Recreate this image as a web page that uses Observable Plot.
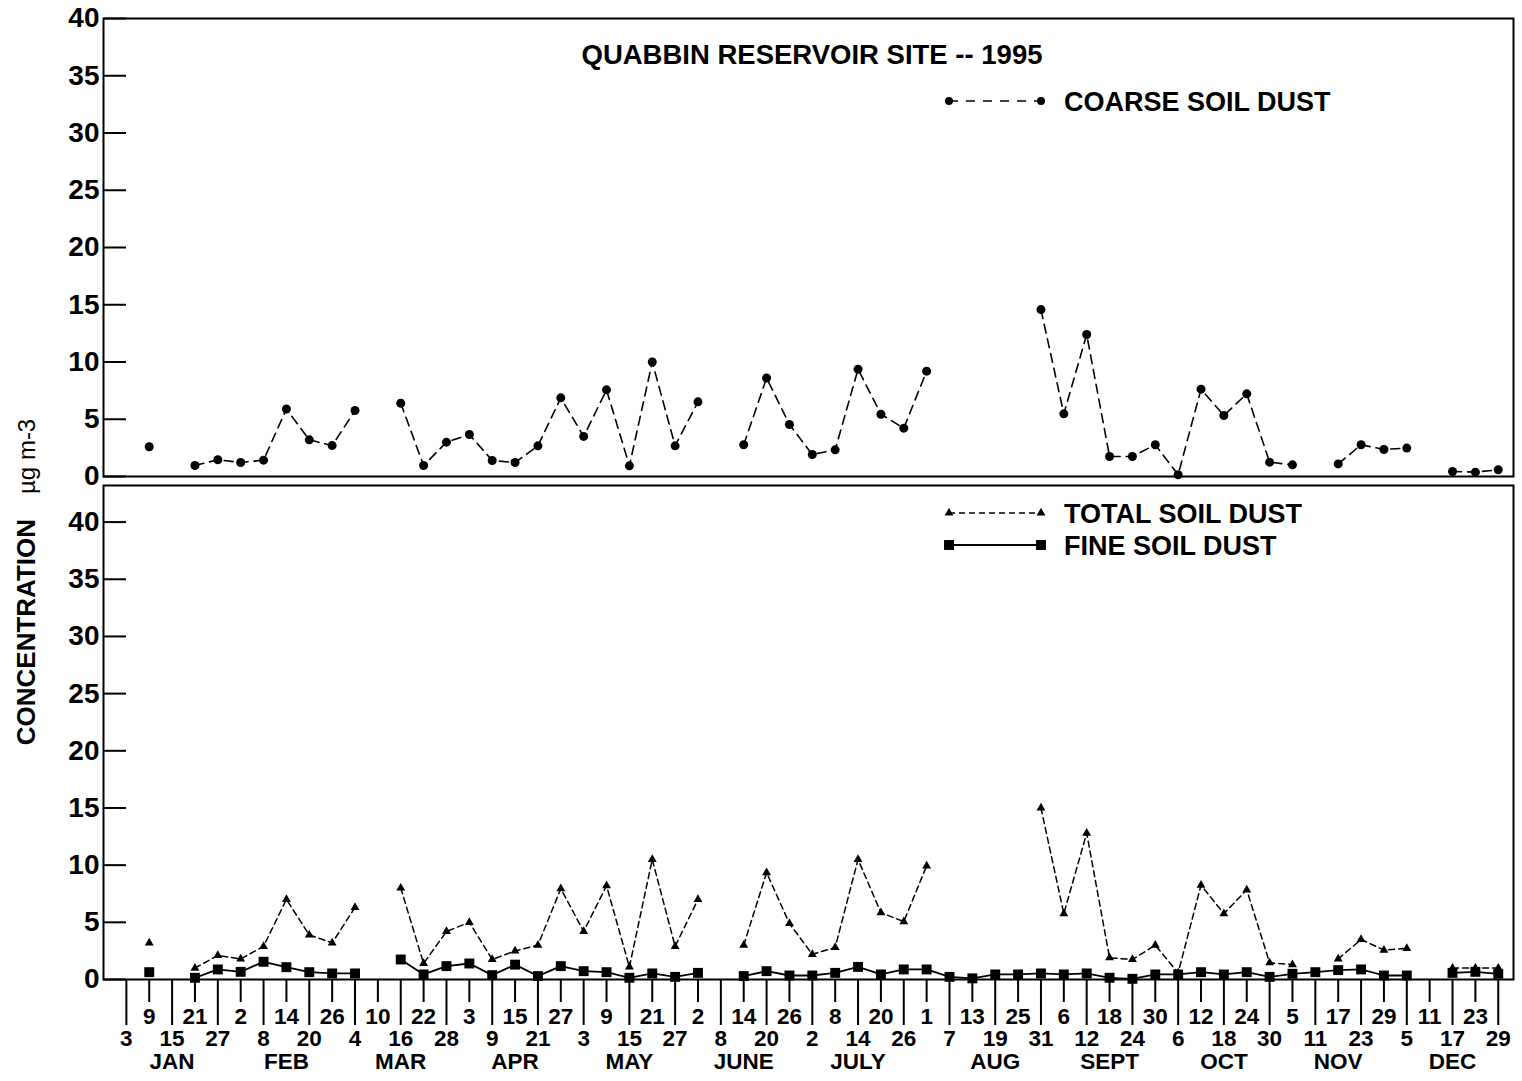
<!DOCTYPE html>
<html><head><meta charset="utf-8">
<script src="https://cdn.jsdelivr.net/npm/d3@7"></script>
<script src="https://cdn.jsdelivr.net/npm/@observablehq/plot@0.6"></script>
<style>
body{margin:0;background:#fff;}
#wrap{position:relative;width:1522px;height:1081px;background:#fff;font-family:"Liberation Sans",Arial,sans-serif;}
#bot{position:absolute;left:0;top:480px;}
#top{position:absolute;left:0;top:0;}
#overlay{position:absolute;left:0;top:0;pointer-events:none;}
</style></head><body>
<div id="wrap"><div id="bot"></div><div id="top"></div><svg id="overlay" width="1522" height="1081"></svg></div>
<script>
// Sampling dates (every sixth day, 1995)
const dates = ["1995-01-03","1995-01-09","1995-01-15","1995-01-21","1995-01-27","1995-02-02","1995-02-08","1995-02-14","1995-02-20","1995-02-26",
"1995-03-04","1995-03-10","1995-03-16","1995-03-22","1995-03-28","1995-04-03","1995-04-09","1995-04-15","1995-04-21","1995-04-27",
"1995-05-03","1995-05-09","1995-05-15","1995-05-21","1995-05-27","1995-06-02","1995-06-08","1995-06-14","1995-06-20","1995-06-26",
"1995-07-02","1995-07-08","1995-07-14","1995-07-20","1995-07-26","1995-08-01","1995-08-07","1995-08-13","1995-08-19","1995-08-25",
"1995-08-31","1995-09-06","1995-09-12","1995-09-18","1995-09-24","1995-09-30","1995-10-06","1995-10-12","1995-10-18","1995-10-24",
"1995-10-30","1995-11-05","1995-11-11","1995-11-17","1995-11-23","1995-11-29","1995-12-05","1995-12-11","1995-12-17","1995-12-23","1995-12-29"];
// Coarse soil dust (ug m-3)
const coarse = [null,2.6,null,0.96,1.46,1.22,1.43,5.9,3.2,2.7,
5.76,null,6.4,0.96,3.0,3.67,1.4,1.22,2.68,6.87,
3.5,7.57,0.93,10.0,2.68,6.52,null,2.77,8.6,4.54,
1.92,2.33,9.37,5.44,4.22,9.2,null,null,null,null,
14.58,5.47,12.4,1.75,1.75,2.77,0.15,7.63,5.33,7.22,
1.25,1.02,null,1.1,2.77,2.36,2.48,null,0.44,0.38,0.59];
// Total soil dust
const total = [null,3.2,null,1.0,2.1,1.8,2.9,7.0,3.9,3.2,
6.3,null,8.0,1.4,4.2,5.0,1.75,2.5,3.0,7.95,
4.2,8.2,1.1,10.5,2.9,7.0,null,3.0,9.35,4.9,
2.2,2.8,10.5,5.85,5.06,9.94,null,null,null,null,
15.0,5.76,12.8,1.9,1.75,3.0,0.58,8.25,5.76,7.84,
1.46,1.3,null,1.8,3.5,2.57,2.72,null,1.0,1.0,1.0];
// Fine soil dust
const fine = [null,0.64,null,0.15,0.88,0.67,1.55,1.08,0.64,0.53,
0.53,null,1.75,0.44,1.17,1.4,0.38,1.3,0.3,1.17,
0.73,0.64,0.15,0.53,0.23,0.58,null,0.3,0.73,0.35,
0.35,0.58,1.1,0.44,0.88,0.88,0.23,0.1,0.44,0.44,
0.53,0.44,0.53,0.15,0.06,0.44,0.44,0.64,0.44,0.64,
0.23,0.5,0.64,0.82,0.88,0.35,0.35,null,0.58,0.67,0.5];
const yTicks = [0,5,10,15,20,25,30,35,40];
const monthNames = ["JAN","FEB","MAR","APR","MAY","JUNE","JULY","AUG","SEPT","OCT","NOV","DEC"];
const monthLabelDates = ["1995-01-15","1995-02-14","1995-03-16","1995-04-15","1995-05-15","1995-06-14","1995-07-14","1995-08-19","1995-09-18","1995-10-18","1995-11-17","1995-12-17"];

const rows = dates.map((d, i) => ({date: new Date(d), coarse: coarse[i], total: total[i], fine: fine[i]}));
const lowerRow = dates.filter((d, i) => i % 2 === 0).map(d => new Date(d));
const upperRow = dates.filter((d, i) => i % 2 === 1).map(d => new Date(d));
const monthTicks = monthLabelDates.map(d => new Date(d));
const monthMap = new Map(monthTicks.map((d, i) => [+d, monthNames[i]]));

const FONT = "'Liberation Sans', Arial, Helvetica, sans-serif";
const W = 1522, ML = 103, MR = 9;
const xDomain = [new Date("1994-12-28"), new Date("1996-01-02")];
const style = {fontFamily: FONT, background: "none", overflow: "visible", color: "black"};
const yTickInset = (W - ML - MR) - 23;

const topChart = Plot.plot({
  width: W, height: 480, marginTop: 18, marginBottom: 4, marginLeft: ML, marginRight: MR,
  style,
  x: {type: "utc", domain: xDomain, axis: null, label: null},
  y: {domain: [0, 40], label: null},
  marks: [
    Plot.frame({stroke: "black", strokeWidth: 2}),
    Plot.tickY(yTicks, {y: d => d, insetRight: yTickInset, stroke: "black", strokeWidth: 2}),
    Plot.axisY(yTicks, {tickSize: 0, tickPadding: 4, fontSize: 28, fontWeight: "bold", label: null}),
    Plot.line(rows, {x: "date", y: "coarse", stroke: "black", strokeWidth: 1.6, strokeDasharray: "9,6"}),
    Plot.dot(rows, {x: "date", y: "coarse", r: 4.5, fill: "black", stroke: "none"})
  ]
});

const botChart = Plot.plot({
  width: W, height: 601, marginTop: 5, marginBottom: 102, marginLeft: ML, marginRight: MR,
  style,
  x: {type: "utc", domain: xDomain, label: null},
  y: {domain: [0, 43.2], label: null},
  marks: [
    Plot.frame({stroke: "black", strokeWidth: 2}),
    Plot.tickY(yTicks, {y: d => d, insetRight: yTickInset, stroke: "black", strokeWidth: 2}),
    Plot.axisY(yTicks, {tickSize: 0, tickPadding: 4, fontSize: 28, fontWeight: "bold", label: null}),
    Plot.axisX(lowerRow, {tickSize: 46, tickPadding: 5, strokeWidth: 2, fontSize: 22.5, fontWeight: "bold", tickFormat: d => d.getUTCDate(), label: null}),
    Plot.axisX(upperRow, {tickSize: 23, tickPadding: 6, strokeWidth: 2, fontSize: 22.5, fontWeight: "bold", tickFormat: d => d.getUTCDate(), label: null}),
    Plot.axisX(monthTicks, {tickSize: 0, tickPadding: 74, fontSize: 22.5, fontWeight: "bold", tickFormat: d => monthMap.get(+d), label: null}),
    Plot.line(rows, {x: "date", y: "total", stroke: "black", strokeWidth: 1.5, strokeDasharray: "6,4"}),
    Plot.dot(rows, {x: "date", y: "total", symbol: "triangle", r: 3.3, fill: "black", stroke: "none"}),
    Plot.line(rows, {x: "date", y: "fine", stroke: "black", strokeWidth: 1.8}),
    Plot.dot(rows, {x: "date", y: "fine", symbol: "square", r: 5.6, fill: "black", stroke: "none"})
  ]
});

document.getElementById("top").appendChild(topChart);
document.getElementById("bot").appendChild(botChart);

// Title, legends and axis title
const ov = d3.select("#overlay").style("font-family", FONT);
ov.append("text").attr("x", 812).attr("y", 64).attr("text-anchor", "middle")
  .attr("font-size", 27.5).attr("font-weight", "bold").text("QUABBIN RESERVOIR SITE -- 1995");

function legend(y, label, dash, width, sym) {
  const g = ov.append("g");
  g.append("line").attr("x1", 949).attr("x2", 1041).attr("y1", y).attr("y2", y)
    .attr("stroke", "black").attr("stroke-width", width).attr("stroke-dasharray", dash);
  [949, 1041].forEach(x => g.append("path").attr("transform", `translate(${x},${y})`).attr("d", d3.symbol(sym.type, sym.size)()).attr("fill", "black"));
  g.append("text").attr("x", 1064).attr("y", y + 9.8).attr("font-size", 27).attr("font-weight", "bold").text(label);
}
legend(101, "COARSE SOIL DUST", "9,8", 1.5, {type: d3.symbolCircle, size: Math.PI * 16});
legend(513, "TOTAL SOIL DUST", "6,4", 1.5, {type: d3.symbolTriangle, size: Math.PI * 3.3 * 3.3});
legend(545, "FINE SOIL DUST", null, 1.8, {type: d3.symbolSquare, size: Math.PI * 5.6 * 5.6});

const yt = ov.append("text").attr("transform", "translate(35,582) rotate(-90)").attr("text-anchor", "middle")
  .attr("font-size", 26).attr("font-weight", "bold");
yt.append("tspan").text("CONCENTRATION");
yt.append("tspan").attr("dx", 25).attr("font-weight", "normal").attr("font-size", 24).text("\u00b5g m-3");
</script>
</body></html>
